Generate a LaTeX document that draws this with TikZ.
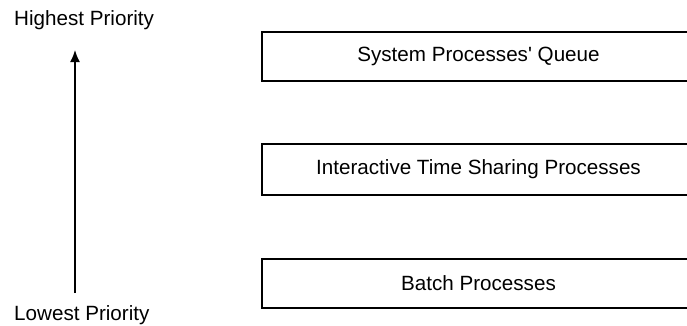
\documentclass[tikz,border=0pt]{standalone}
\usepackage{fontspec}
\setmainfont{Liberation Sans}
\usetikzlibrary{arrows.meta,positioning}

\begin{document}
\begin{tikzpicture}[
  font=\fontsize{17.6}{20}\selectfont,
  queue/.style={rectangle, draw=black, line width=1.6pt, minimum width=12.99cm,
                minimum height=1.5cm, inner sep=0pt},
  lbl/.style={anchor=west, inner sep=0pt},
  prio/.style={-{Latex[length=3.6mm,width=3mm]}, line width=1.4pt}
]
\useasboundingbox (0,0) rectangle (20.61,-9.75);
\clip (0,0) rectangle (20.61,-9.75);

% queues, right edge runs off the page
\node[queue, minimum height=1.47cm] (sys) at (14.355,-1.695) {System Processes\textquotesingle\ Queue};
\node[queue, minimum height=1.53cm] (ints) at (14.355,-5.085) {Interactive Time Sharing Processes};
\node[queue, minimum height=1.47cm] (bat) at (14.355,-8.505) {Batch Processes};

% priority scale
\node[lbl] (high) at (0.42,-0.6)  {Highest Priority};
\node[lbl] (low)  at (0.42,-9.45) {Lowest Priority};

\coordinate (base) at (2.25,-8.79);
\coordinate (tip)  at (2.25,-1.5);
\draw[prio] (base) -- (tip);

\end{tikzpicture}
\end{document}
